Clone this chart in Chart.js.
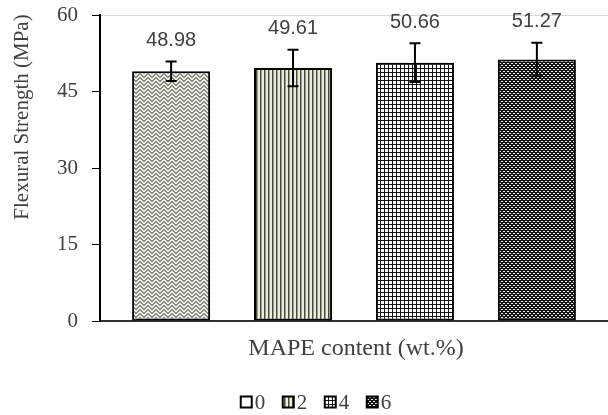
<!DOCTYPE html>
<html>
<head>
<meta charset="utf-8">
<script src="https://cdn.jsdelivr.net/npm/chart.js@4.4.1/dist/chart.umd.min.js"></script>
<style>
  html, body { margin: 0; padding: 0; background: #ffffff; }
  #wrap { width: 608px; height: 415px; }
</style>
</head>
<body>
<div id="wrap"><canvas id="chart" width="608" height="415"></canvas></div>
<script>
// --- data ---
const categories = [''];
const seriesNames = ['0', '2', '4', '6'];
const strength = [48.98, 49.61, 50.66, 51.27];
const strengthErr = [1.9, 3.6, 3.8, 3.3];
const yTicks = [0, 15, 30, 45, 60];

const xTitle = 'MAPE content (wt.%)';
const yTitle = 'Flexural Strength (MPa)';

// --- fill patterns, one per series ---
function makePattern(size, painter) {
  const c = document.createElement('canvas');
  c.width = size;
  c.height = size;
  const g = c.getContext('2d');
  for (let y = 0; y < size; y++) {
    for (let x = 0; x < size; x++) {
      g.fillStyle = painter(x, y);
      g.fillRect(x, y, 1, 1);
    }
  }
  return c.getContext('2d').createPattern(c, 'repeat');
}

const ctx = document.getElementById('chart').getContext('2d');

// zig zag (herringbone-like) grey on white
const zigzag = makePattern(8, (x, y) => {
  const t = x % 8 < 4 ? x % 8 : 7 - (x % 8);
  return (y + t) % 4 < 2 ? '#8a8a7c' : '#f0f0ec';
});
// vertical stripes, olive
const stripes = makePattern(4, (x) => {
  if (x === 0) return '#4a4a30';
  if (x === 1) return '#9c9c8c';
  return '#ececE6';
});
// small grid
const grid = makePattern(4, (x, y) => (x === 0 || y === 0) ? '#151515' : '#ffffff');
// dark with small white dots
const dots = makePattern(4, (x, y) => {
  if (y === 1 && (x === 1 || x === 2)) return '#f0f0f0';
  if (y === 3 && (x === 3 || x === 0)) return '#f0f0f0';
  return '#151515';
});
const fills = [zigzag, stripes, grid, dots];

const serif = '"Liberation Serif", "Times New Roman", serif';
const sans = '"Liberation Sans", Arial, sans-serif';
const textColor = '#404040';

// error bars + value labels above them
const errorBars = {
  id: 'errorBars',
  afterDatasetsDraw(chart) {
    const c = chart.ctx;
    const yScale = chart.scales.y;
    c.save();
    chart.data.datasets.forEach((ds, i) => {
      const bar = chart.getDatasetMeta(i).data[0];
      const v = strength[i];
      const e = strengthErr[i];
      const top = yScale.getPixelForValue(v + e);
      const bottom = yScale.getPixelForValue(v - e);
      c.strokeStyle = '#000000';
      c.lineWidth = 2;
      c.beginPath();
      c.moveTo(bar.x, top);
      c.lineTo(bar.x, bottom);
      c.moveTo(bar.x - 5.5, top);
      c.lineTo(bar.x + 5.5, top);
      c.moveTo(bar.x - 5.5, bottom);
      c.lineTo(bar.x + 5.5, bottom);
      c.stroke();

      c.fillStyle = textColor;
      c.font = '20px ' + sans;
      c.textAlign = 'center';
      c.textBaseline = 'middle';
      c.fillText(v.toFixed(2), bar.x, top - 21);
    });
    c.restore();
  }
};

// axis titles and the legend row
const titlesAndLegend = {
  id: 'titlesAndLegend',
  afterDraw(chart) {
    const c = chart.ctx;
    c.save();
    c.fillStyle = textColor;
    c.textBaseline = 'middle';
    c.textAlign = 'center';

    c.font = '24px ' + serif;
    c.fillText(xTitle, 356, 349);

    c.save();
    c.translate(22, 117);
    c.rotate(-Math.PI / 2);
    c.font = '21px ' + serif;
    c.fillText(yTitle, 0, 0);
    c.restore();

    // legend
    c.font = '21px ' + serif;
    c.textAlign = 'left';
    const box = 11, gap = 3, spacing = 17.5;
    const widths = seriesNames.map(n => box + gap + c.measureText(n).width);
    const total = widths.reduce((a, b) => a + b, 0) + spacing * (seriesNames.length - 1);
    let x = 316 - total / 2;
    const yMid = 402;
    seriesNames.forEach((n, i) => {
      c.fillStyle = i === 0 ? '#ffffff' : fills[i];
      c.fillRect(x, yMid - box / 2, box, box);
      c.strokeStyle = '#000000';
      c.lineWidth = 2;
      c.strokeRect(x, yMid - box / 2, box, box);
      c.fillStyle = textColor;
      c.fillText(n, x + box + gap, yMid + 1);
      x += widths[i] + spacing;
    });
    c.restore();
  }
};

new Chart(ctx, {
  type: 'bar',
  data: {
    labels: categories,
    datasets: seriesNames.map((name, i) => ({
      label: name,
      data: [strength[i]],
      backgroundColor: fills[i],
      borderColor: '#000000',
      borderWidth: 2,
      borderSkipped: false,
      categoryPercentage: 0.96,
      barPercentage: 0.64,
    })),
  },
  options: {
    responsive: false,
    animation: false,
    devicePixelRatio: 1,
    layout: { padding: { top: 15, right: 0, left: 0, bottom: 0 } },
    plugins: {
      legend: { display: false },
      tooltip: { enabled: false },
    },
    scales: {
      x: {
        ticks: { display: false },
        grid: { color: 'rgba(0,0,0,0)', drawTicks: false },
        border: { display: true, color: '#303030', width: 2 },
        afterFit(scale) { scale.height = 94; },
      },
      y: {
        min: yTicks[0],
        max: yTicks[yTicks.length - 1],
        afterBuildTicks(scale) { scale.ticks = yTicks.map(v => ({ value: v })); },
        ticks: {
          color: textColor,
          font: { family: serif, size: 21 },
          padding: 14,
        },
        grid: {
          color: (c) => c.tick && c.tick.value === 60 ? '#d9d9d9' : 'rgba(0,0,0,0)',
          tickColor: '#000000',
          tickLength: 8,
          lineWidth: 1,
        },
        border: { display: true, color: '#000000', width: 2 },
        afterFit(scale) {
          scale.width = 100;
          scale.paddingTop = 0;
          scale.paddingBottom = 0;
        },
      },
    },
  },
  plugins: [errorBars, titlesAndLegend],
});
</script>
</body>
</html>
